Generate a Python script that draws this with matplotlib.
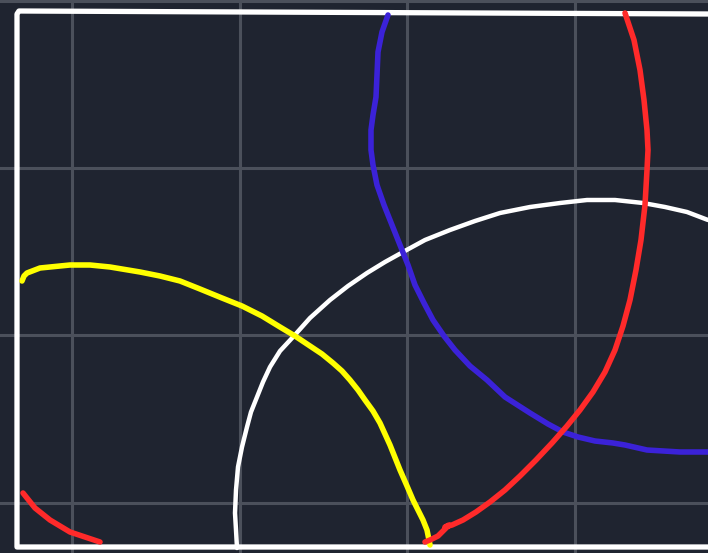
import matplotlib.pyplot as plt

# sketch on a dark grid, coordinates read in pixels off the picture
grid_x = [72, 240, 407, 575]
grid_y = [1, 168, 335, 503]

frame_x = [708, 17, 17, 19, 708]
frame_y = [547, 547, 14, 11, 14]

blue_x = [388, 382, 378, 377, 376, 373, 371, 371, 373, 377, 384, 392, 400, 408, 415, 424, 433, 444, 455, 470, 487, 505, 530, 548, 563, 578, 595, 613, 625, 647, 680, 708]
blue_y = [15, 32, 52, 75, 97, 115, 130, 150, 165, 185, 205, 225, 245, 265, 285, 303, 320, 336, 350, 366, 380, 397, 413, 424, 432, 437, 441, 443, 445, 450, 452, 452]

red_x = [625, 634, 640, 644, 647, 648, 647, 645, 641, 636, 630, 623, 615, 605, 593, 580, 567, 552, 536, 520, 505, 490, 476, 463, 452, 445, 449, 438, 430, 425]
red_y = [13, 40, 70, 100, 130, 150, 170, 205, 240, 270, 300, 326, 350, 372, 392, 410, 426, 443, 460, 476, 490, 502, 512, 520, 525, 527, 525, 536, 540, 542]

red2_x = [23, 35, 50, 70, 100]
red2_y = [493, 508, 520, 532, 542]

yellow_x = [22, 24, 27, 40, 70, 90, 110, 140, 160, 180, 200, 222, 242, 262, 280, 295, 310, 322, 333, 342, 350, 358, 365, 373, 380, 390, 400, 407, 413, 418, 423, 427, 430]
yellow_y = [281, 276, 273, 268, 265, 265, 267, 272, 276, 281, 289, 298, 306, 316, 327, 336, 346, 354, 363, 371, 380, 390, 400, 411, 423, 445, 470, 486, 500, 510, 520, 530, 545]

white_x = [237, 236, 235, 236, 238, 242, 247, 251, 257, 263, 270, 280, 293, 310, 330, 348, 367, 385, 403, 425, 450, 475, 500, 530, 560, 587, 615, 643, 665, 687, 708]
white_y = [548, 530, 513, 490, 467, 447, 427, 412, 397, 382, 367, 351, 337, 318, 300, 286, 273, 262, 252, 240, 230, 221, 213, 207, 203, 200, 200, 203, 207, 212, 220]

fig = plt.figure(figsize=(7.08, 5.53), dpi=100, facecolor="#1f2430")
ax = fig.add_axes([0, 0, 1, 1])
ax.set_facecolor("#1f2430")
ax.set_xlim(0, 708)
ax.set_ylim(553, 0)

ax.set_xticks(grid_x)
ax.set_yticks(grid_y)
ax.tick_params(length=0, labelbottom=False, labelleft=False)
ax.grid(True, color="#4b505b", linewidth=2.2)
for s in ax.spines.values():
    s.set_visible(False)

ax.plot(frame_x, frame_y, color="white", linewidth=3.8, solid_joinstyle="round")
ax.plot(white_x, white_y, color="white", linewidth=3.2, solid_capstyle="round", solid_joinstyle="round")
ax.plot(yellow_x, yellow_y, color="#ffff00", linewidth=4.0, solid_capstyle="round", solid_joinstyle="round")
ax.plot(blue_x, blue_y, color="#3b22d8", linewidth=4.0, solid_capstyle="round", solid_joinstyle="round")
ax.plot(red_x, red_y, color="#ff2a2a", linewidth=4.0, solid_capstyle="round", solid_joinstyle="round")
ax.plot(red2_x, red2_y, color="#ff2a2a", linewidth=4.0, solid_capstyle="round", solid_joinstyle="round")

fig.savefig("out.png", dpi=100, facecolor="#1f2430")
